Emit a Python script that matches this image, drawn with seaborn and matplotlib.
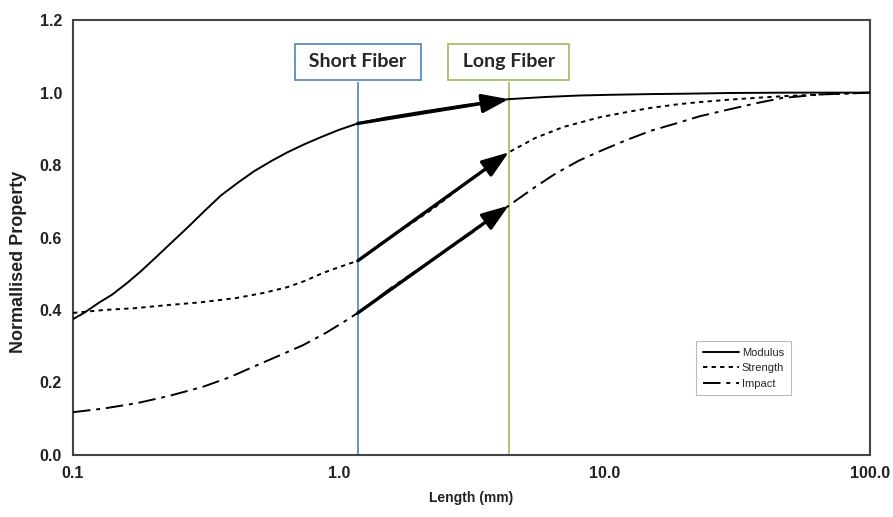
import numpy as np
import pandas as pd
import matplotlib
matplotlib.use("Agg")
import matplotlib.pyplot as plt
import seaborn as sns

# values
modulus_len = [0.1, 0.11, 0.125, 0.14, 0.16, 0.18, 0.2, 0.23, 0.27, 0.31, 0.36, 0.42, 0.48, 0.56,
               0.64, 0.74, 0.85, 1.0, 1.18, 1.5, 2.0, 3.0, 4.36, 6.0, 8.0, 10.5, 15.0, 20.0, 30.0,
               50.0, 100.0]
modulus_val = [0.375, 0.392, 0.42, 0.442, 0.475, 0.507, 0.538, 0.58, 0.628, 0.671, 0.716, 0.753, 0.783,
               0.812, 0.835, 0.857, 0.876, 0.897, 0.915, 0.931, 0.946, 0.966, 0.982, 0.988, 0.992,
               0.994, 0.996, 0.997, 0.999, 1.0, 1.0]

strength_len = [0.1, 0.13, 0.17, 0.23, 0.3, 0.41, 0.52, 0.64, 0.75, 0.87, 1.0, 1.18, 1.6, 2.27,
                3.2, 4.36, 5.5, 7.0, 9.6, 12.5, 15.0, 19.0, 22.9, 30.0, 38.0, 46.5, 65.0, 100.0]
strength_val = [0.392, 0.40, 0.405, 0.414, 0.421, 0.433, 0.447, 0.463, 0.481, 0.502, 0.518, 0.536,
                0.605, 0.68, 0.765, 0.835, 0.875, 0.905, 0.932, 0.948, 0.958, 0.968, 0.974, 0.981,
                0.986, 0.99, 0.995, 1.0]

impact_len = [0.1, 0.13, 0.174, 0.23, 0.308, 0.39, 0.476, 0.6, 0.734, 0.9, 1.07, 1.18, 1.6, 2.27,
              3.2, 4.36, 5.5, 6.5, 8.0, 9.6, 12.0, 15.0, 19.0, 22.9, 30.0, 38.0, 46.5, 65.0, 100.0]
impact_val = [0.118, 0.128, 0.143, 0.163, 0.188, 0.215, 0.243, 0.275, 0.303, 0.338, 0.372, 0.392,
              0.465, 0.54, 0.615, 0.688, 0.74, 0.775, 0.812, 0.838, 0.868, 0.895, 0.917, 0.935,
              0.955, 0.972, 0.985, 0.995, 1.0]

short_fiber_len = 1.18
long_fiber_len = 4.36
arrow_start = [0.915, 0.536, 0.392]
arrow_end = [0.982, 0.835, 0.688]

x_ticks = [0.1, 1.0, 10.0, 100.0]
x_tick_labels = ["0.1", "1.0", "10.0", "100.0"]
y_ticks = [0.0, 0.2, 0.4, 0.6, 0.8, 1.0, 1.2]

sns.set_theme(style="white")
plt.rcParams["font.family"] = ["Liberation Sans", "DejaVu Sans"]

fig = plt.figure(figsize=(8.93, 5.17), dpi=100)
ax = fig.add_axes([0.0818, 0.12, 0.8925, 0.841])

box_bottom = 1.03
ax.vlines(short_fiber_len, 0, box_bottom, color="#4f81bd", lw=1.2, zorder=1)
ax.vlines(long_fiber_len, 0, box_bottom, color="#9bbb59", lw=1.2, zorder=1)

series = [
    ("Modulus", modulus_len, modulus_val, "-"),
    ("Strength", strength_len, strength_val, (0, (2.2, 2.2))),
    ("Impact", impact_len, impact_val, (0, (9, 3, 2, 3))),
]
for name, xs, ys, ls in series:
    df = pd.DataFrame({"length": xs, "value": ys})
    sns.lineplot(data=df, x="length", y="value", ax=ax, color="black",
                 lw=1.4, linestyle=ls, label=name, zorder=3)

for y0, y1 in zip(arrow_start, arrow_end):
    ax.annotate("", xy=(long_fiber_len, y1), xytext=(short_fiber_len, y0),
                arrowprops=dict(arrowstyle="-|>,head_length=0.9,head_width=0.32",
                                color="black", lw=2.4, mutation_scale=18,
                                shrinkA=0, shrinkB=0), zorder=4)

for x, label, col in [(short_fiber_len, " Short Fiber ", "#4f81bd"),
                      (long_fiber_len, " Long Fiber ", "#9bbb59")]:
    ax.text(x, 1.085, label, ha="center", va="center", fontsize=14,
            fontweight="bold", family=["Lato", "DejaVu Sans"], color="#262626",
            bbox=dict(boxstyle="square,pad=0.5", fc="white", ec=col, lw=1.2),
            zorder=5)

ax.set_xscale("log")
ax.set_xlim(0.1, 100)
ax.set_ylim(0, 1.2)
ax.set_xticks(x_ticks)
ax.set_xticklabels(x_tick_labels)
ax.xaxis.set_minor_locator(matplotlib.ticker.NullLocator())
ax.set_yticks(y_ticks)
ax.set_yticklabels([f"{v:.1f}" for v in y_ticks])
ax.tick_params(axis="both", direction="in", length=4, width=0.8,
               colors="#999999", labelcolor="#222222", labelsize=11.5, pad=8)
for lab in ax.get_xticklabels() + ax.get_yticklabels():
    lab.set_fontweight("bold")

ax.set_xlabel("Length (mm)", fontsize=10, fontweight="bold", color="#222222", labelpad=7)
ax.set_ylabel("Normallised Property", fontsize=13, fontweight="bold", color="#222222")
ax.yaxis.set_label_coords(-0.058, 0.444)

for sp in ax.spines.values():
    sp.set_color("#444444")
    sp.set_linewidth(1.5)

leg = ax.legend(loc="lower left", bbox_to_anchor=(0.775, 0.124), fontsize=8,
                frameon=True, fancybox=False, edgecolor="#aaaaaa",
                handlelength=3.2, handletextpad=0.3, borderpad=0.6,
                labelspacing=0.5)
leg.get_frame().set_linewidth(0.8)

fig.savefig("out.png", dpi=100)
